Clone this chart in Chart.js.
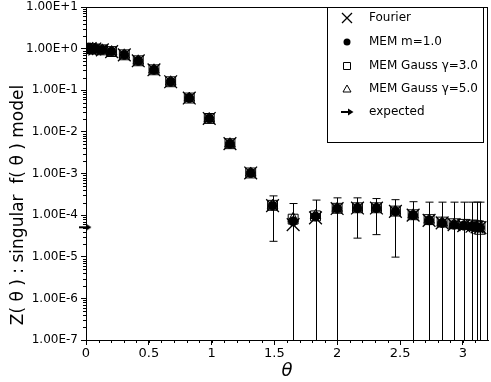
<!DOCTYPE html>
<html>
<head>
<meta charset="utf-8">
<script src="https://cdn.jsdelivr.net/npm/chart.js@4/dist/chart.umd.min.js"></script>
<style>
body{margin:0;background:#fff;}
</style>
</head>
<body>
<canvas id="myChart" width="491" height="382"></canvas>
<script>
'use strict';
// data
let theta = [0.007, 0.033, 0.07, 0.13, 0.204, 0.305, 0.416, 0.541, 0.674, 0.822, 0.981, 1.146, 1.311, 1.485,
  1.649, 1.827, 1.999, 2.161, 2.312, 2.463, 2.604, 2.731, 2.835, 2.93, 3.007, 3.073, 3.113, 3.136];
let fourier = [1.0, 0.996, 0.98, 0.935, 0.85, 0.71, 0.51, 0.31, 0.16, 0.065, 0.021, 0.0052, 0.00103, 1.69e-4,
  5.9e-5, 8.6e-5, 1.44e-4, 1.48e-4, 1.48e-4, 1.23e-4, 1.0e-4, 7.5e-5, 6.5e-5, 5.9e-5, 5.6e-5, 5.4e-5, 5.2e-5, 5.0e-5];
let memM1 = [1.0, 0.996, 0.98, 0.935, 0.85, 0.71, 0.51, 0.31, 0.16, 0.065, 0.021, 0.0052, 0.00103, 1.69e-4,
  7.1e-5, 9.3e-5, 1.44e-4, 1.48e-4, 1.48e-4, 1.23e-4, 1.0e-4, 7.5e-5, 6.5e-5, 5.9e-5, 5.6e-5, 5.4e-5, 5.2e-5, 5.0e-5];
let gauss3 = [1.0, 0.996, 0.98, 0.935, 0.85, 0.71, 0.51, 0.31, 0.16, 0.065, 0.021, 0.0052, 0.00103, 1.72e-4,
  8.0e-5, 9.6e-5, 1.46e-4, 1.5e-4, 1.5e-4, 1.25e-4, 1.02e-4, 7.8e-5, 6.8e-5, 6.2e-5, 6.0e-5, 5.8e-5, 5.6e-5, 5.3e-5];
let gauss5 = [1.0, 0.996, 0.98, 0.935, 0.85, 0.71, 0.51, 0.31, 0.16, 0.065, 0.021, 0.0052, 0.00103, 1.72e-4,
  8.4e-5, 9.8e-5, 1.46e-4, 1.5e-4, 1.5e-4, 1.25e-4, 1.02e-4, 7.6e-5, 6.6e-5, 6.0e-5, 5.6e-5, 5.2e-5, 4.8e-5, 4.1e-5];
// error bars of the Fourier points (0 = lower end below the axis)
let errUp = [null, null, null, null, null, null, null, null, null, null, null, null, null, 2.9e-4,
  1.9e-4, 2.3e-4, 2.6e-4, 2.6e-4, 2.5e-4, 2.35e-4, 2.1e-4, 2.05e-4, 2.05e-4, 2.05e-4, 2.05e-4, 2.05e-4, 2.05e-4, 2.05e-4];
let errLo = [null, null, null, null, null, null, null, null, null, null, null, null, null, 2.35e-5,
  0, 0, 0, 2.8e-5, 3.4e-5, 9.8e-6, 0, 0, 0, 0, 0, 0, 0, 0];
let expectedTheta = [0];
let expectedZ = [5.1e-5];
let yTicks = [1e1, 1e0, 1e-1, 1e-2, 1e-3, 1e-4, 1e-5, 1e-6, 1e-7];
let xTicks = [0, 0.5, 1, 1.5, 2, 2.5, 3];
let seriesNames = ['Fourier', 'MEM m=1.0', 'MEM Gauss \u03b3=3.0', 'MEM Gauss \u03b3=5.0', 'expected'];

function toPoints(xs, ys){
  return xs.map((x, i) => ({x: x, y: ys[i]}));
}

function makeArrow(){
  let c = document.createElement('canvas');
  c.width = 24;
  c.height = 10;
  let g = c.getContext('2d');
  g.strokeStyle = '#000';
  g.fillStyle = '#000';
  g.lineWidth = 2;
  g.beginPath();
  g.moveTo(5, 5);
  g.lineTo(14, 5);
  g.stroke();
  g.beginPath();
  g.moveTo(12, 1.5);
  g.lineTo(17.5, 5);
  g.lineTo(12, 8.5);
  g.closePath();
  g.fill();
  return c;
}

// legend symbols
function drawSymbol(ctx, kind, x, y){
  ctx.save();
  ctx.strokeStyle = '#000';
  ctx.fillStyle = '#000';
  ctx.lineWidth = 1;
  ctx.beginPath();
  if(kind === 0){
    ctx.lineWidth = 1.3;
    ctx.moveTo(x - 5, y - 5); ctx.lineTo(x + 5, y + 5);
    ctx.moveTo(x + 5, y - 5); ctx.lineTo(x - 5, y + 5);
    ctx.stroke();
  }else if(kind === 1){
    ctx.arc(x, y, 3.5, 0, Math.PI * 2);
    ctx.fill();
  }else if(kind === 2){
    ctx.rect(x - 3.5, y - 3.5, 7, 7);
    ctx.stroke();
  }else if(kind === 3){
    ctx.moveTo(x, y - 4); ctx.lineTo(x + 4, y + 3); ctx.lineTo(x - 4, y + 3);
    ctx.closePath();
    ctx.stroke();
  }else{
    ctx.lineWidth = 2;
    ctx.moveTo(x - 6, y); ctx.lineTo(x + 3, y);
    ctx.stroke();
    ctx.beginPath();
    ctx.moveTo(x + 1, y - 3.5); ctx.lineTo(x + 6.5, y); ctx.lineTo(x + 1, y + 3.5);
    ctx.closePath();
    ctx.fill();
  }
  ctx.restore();
}

let extras = {
  id: 'extras',
  beforeDatasetsDraw(chart){
    let ctx = chart.ctx;
    let xs = chart.scales.x;
    let ys = chart.scales.y;
    let area = chart.chartArea;
    ctx.save();
    ctx.strokeStyle = '#000';
    ctx.lineWidth = 1;
    for(let i = 0; i < theta.length; i++){
      if(errUp[i] === null) continue;
      let px = Math.round(xs.getPixelForValue(theta[i])) + 0.5;
      let top = ys.getPixelForValue(errUp[i]);
      let bottom = errLo[i] > 0 ? ys.getPixelForValue(errLo[i]) : area.bottom;
      ctx.beginPath();
      ctx.moveTo(px, top);
      ctx.lineTo(px, bottom);
      ctx.moveTo(px - 4, top);
      ctx.lineTo(px + 4, top);
      if(errLo[i] > 0){
        ctx.moveTo(px - 4, bottom);
        ctx.lineTo(px + 4, bottom);
      }
      ctx.stroke();
    }
    ctx.restore();
  },
  afterDraw(chart){
    let ctx = chart.ctx;
    let xs = chart.scales.x;
    let ys = chart.scales.y;
    let area = chart.chartArea;
    ctx.save();
    ctx.strokeStyle = '#000';
    ctx.lineWidth = 1;
    // minor ticks
    ctx.beginPath();
    for(let v = 0.1; v < 3.2; v += 0.1){
      let px = Math.round(xs.getPixelForValue(v)) + 0.5;
      ctx.moveTo(px, area.bottom);
      ctx.lineTo(px, area.bottom + 3);
    }
    for(let e = -7; e < 1; e++){
      for(let m = 2; m < 10; m++){
        let py = Math.round(ys.getPixelForValue(m * Math.pow(10, e))) + 0.5;
        ctx.moveTo(area.left, py);
        ctx.lineTo(area.left - 3, py);
      }
    }
    ctx.stroke();
    // frame
    ctx.strokeRect(area.left + 0.5, area.top + 0.5, area.right - area.left - 1, area.bottom - area.top);
    // legend box
    ctx.fillStyle = '#fff';
    ctx.fillRect(327, 7, 156, 135);
    ctx.strokeRect(327.5, 7.5, 156, 135);
    ctx.fillStyle = '#000';
    ctx.font = '12px "DejaVu Sans"';
    ctx.textBaseline = 'middle';
    let rows = [18, 42, 66, 89, 112];
    for(let i = 0; i < seriesNames.length; i++){
      drawSymbol(ctx, i, 347, rows[i]);
      ctx.fillText(seriesNames[i], 369, rows[i]);
    }
    // y axis title
    ctx.translate(19, 205);
    ctx.rotate(-Math.PI / 2);
    ctx.textAlign = 'center';
    ctx.font = '17px "DejaVu Sans"';
    ctx.fillText('Z( \u03b8 ) : singular  f( \u03b8 ) model', 0, 0);
    ctx.restore();
  }
};

Chart.defaults.font.family = '"DejaVu Sans"';
Chart.defaults.font.size = 12;
Chart.defaults.color = '#000';

let arrowImg = makeArrow();

let data = {
  datasets: [
    {
      label: seriesNames[1],
      data: toPoints(theta, memM1),
      pointStyle: 'circle',
      pointRadius: 4.5,
      backgroundColor: '#000',
      borderColor: '#000',
      borderWidth: 1
    },
    {
      label: seriesNames[2],
      data: toPoints(theta, gauss3),
      pointStyle: 'rect',
      pointRadius: 7,
      backgroundColor: 'rgba(0,0,0,0)',
      borderColor: '#000',
      borderWidth: 1
    },
    {
      label: seriesNames[3],
      data: toPoints(theta, gauss5),
      pointStyle: 'triangle',
      pointRadius: 6,
      backgroundColor: 'rgba(0,0,0,0)',
      borderColor: '#000',
      borderWidth: 1
    },
    {
      label: seriesNames[0],
      data: toPoints(theta, fourier),
      pointStyle: 'crossRot',
      pointRadius: 9,
      borderColor: '#000',
      borderWidth: 1.3
    },
    {
      label: seriesNames[4],
      data: toPoints(expectedTheta, expectedZ),
      pointStyle: arrowImg,
      clip: false
    }
  ]
};

let config = {
  type: 'scatter',
  data: data,
  options: {
    responsive: false,
    animation: false,
    layout: {autoPadding: false, padding: {top: 7, right: 3, left: 0, bottom: 0}},
    plugins: {
      legend: {display: false},
      tooltip: {enabled: false}
    },
    scales: {
      x: {
        type: 'linear',
        min: 0,
        max: 3.2,
        afterBuildTicks: function(scale){
          scale.ticks = xTicks.map(v => ({value: v}));
        },
        afterFit: function(scale){
          scale.height = 42;
          scale.paddingLeft = 0;
          scale.paddingRight = 0;
        },
        ticks: {
          padding: 1,
          font: {size: 13},
          callback: v => String(v)
        },
        grid: {drawOnChartArea: false, tickLength: 5, tickColor: '#000'},
        border: {color: '#000'},
        title: {
          display: true,
          text: '\u03b8',
          font: {size: 18, style: 'italic'},
          padding: {top: 1, bottom: 0}
        }
      },
      y: {
        type: 'logarithmic',
        min: 1e-7,
        max: 10,
        afterBuildTicks: function(scale){
          scale.ticks = yTicks.map(v => ({value: v}));
        },
        afterFit: function(scale){
          scale.width = 86;
          scale.paddingTop = 0;
          scale.paddingBottom = 0;
        },
        ticks: {
          padding: 3,
          font: {size: 12},
          callback: v => Number(v).toExponential(2).toUpperCase()
        },
        grid: {drawOnChartArea: false, tickLength: 5, tickColor: '#000'},
        border: {color: '#000'}
      }
    }
  },
  plugins: [extras]
};

let myChart = new Chart(document.getElementById('myChart'), config);
</script>
</body>
</html>
